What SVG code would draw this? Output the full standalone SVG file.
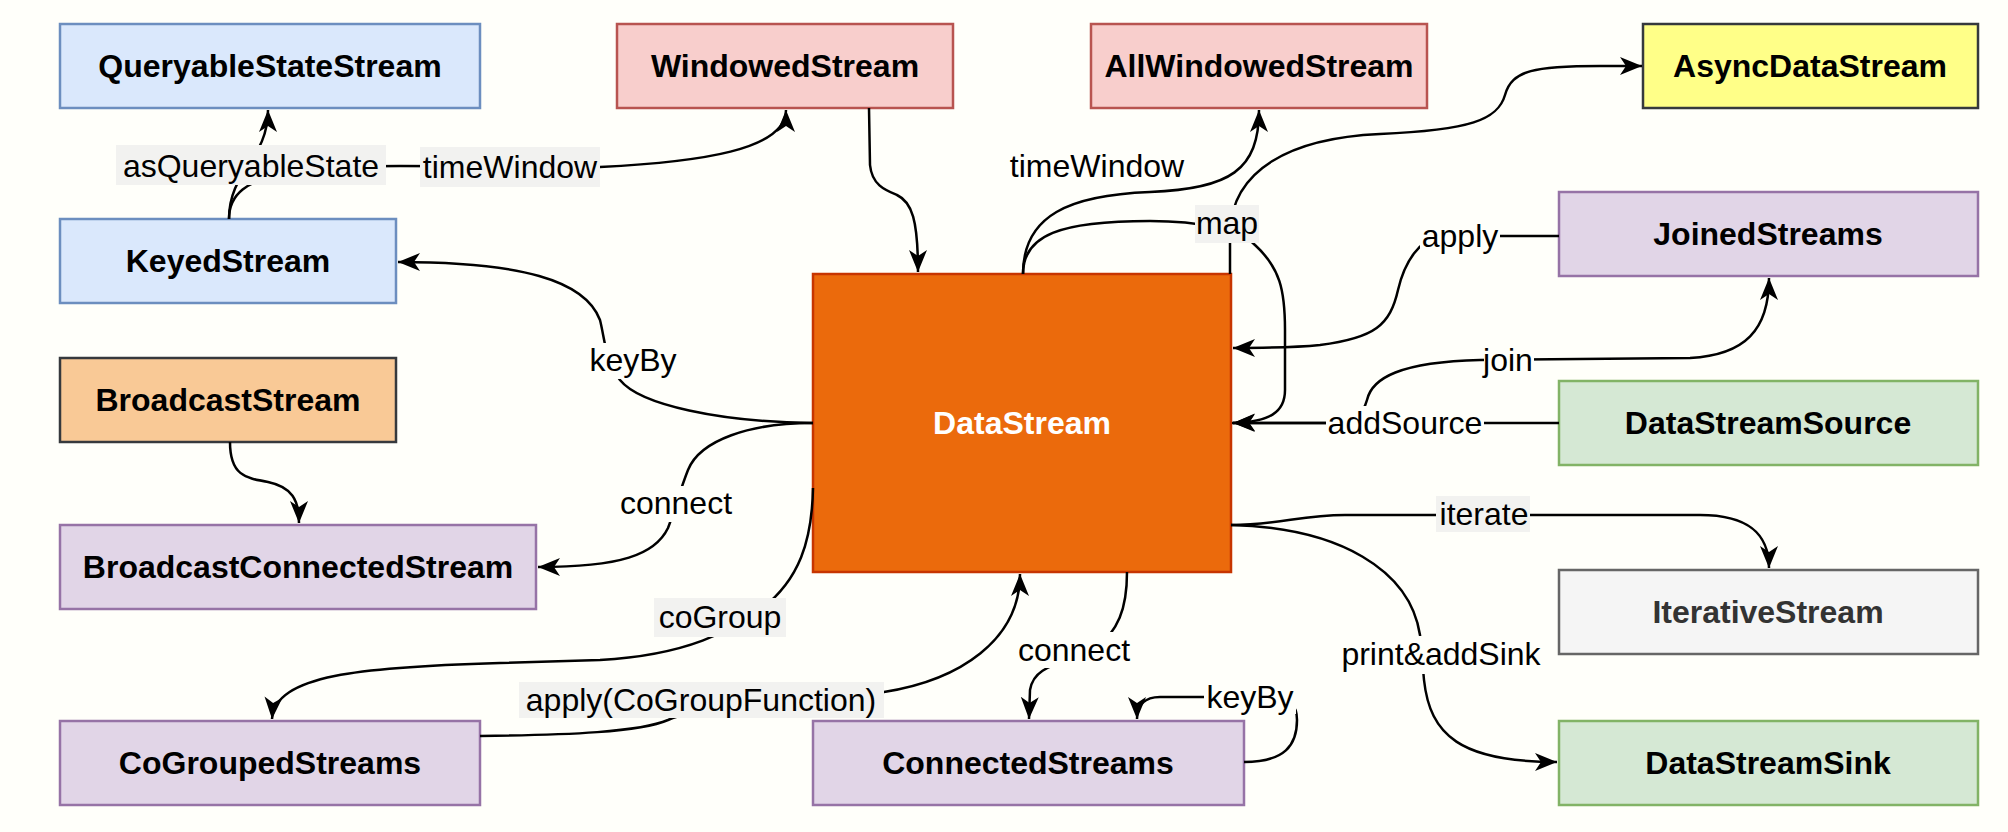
<svg xmlns="http://www.w3.org/2000/svg" width="2008" height="832" viewBox="0 0 2008 832">
<defs>
<marker id="arr" markerUnits="userSpaceOnUse" markerWidth="24" markerHeight="20" refX="22" refY="9" orient="auto">
<path d="M0,0 L22,9 L0,18 L6,9 Z" fill="#000"/>
</marker>
<style>
.n{stroke-width:2.5}
.nt{font-family:"Liberation Sans",Arial,Helvetica,sans-serif;font-weight:bold;font-size:32px;text-anchor:middle;fill:#000}
.e{fill:none;stroke:#000;stroke-width:2.5}
.a{marker-end:url(#arr)}
.lt{font-family:"Liberation Sans",Arial,Helvetica,sans-serif;font-size:32px;text-anchor:middle;fill:#000}
.lb{fill:#fffffa}
.lg{fill:#f2f2f0}
.blue{fill:#dae8fc;stroke:#6c8ebf}
.red{fill:#f8cecc;stroke:#b85450}
.purple{fill:#e1d5e7;stroke:#9673a6}
.green{fill:#d5e8d4;stroke:#82b366}
</style>
</defs>
<rect width="2008" height="832" fill="#fffffa"/>

<g id="QueryableStateStream"><rect class="n blue" x="60" y="24" width="420" height="84"/><text class="nt" x="270" y="77">QueryableStateStream</text></g>
<g id="KeyedStream"><rect class="n blue" x="60" y="219" width="336" height="84"/><text class="nt" x="228" y="272">KeyedStream</text></g>
<g id="BroadcastStream"><rect class="n" fill="#f9c996" stroke="#36393d" x="60" y="358" width="336" height="84"/><text class="nt" x="228" y="411">BroadcastStream</text></g>
<g id="BroadcastConnectedStream"><rect class="n purple" x="60" y="525" width="476" height="84"/><text class="nt" x="298" y="578">BroadcastConnectedStream</text></g>
<g id="CoGroupedStreams"><rect class="n purple" x="60" y="721" width="420" height="84"/><text class="nt" x="270" y="774">CoGroupedStreams</text></g>
<g id="WindowedStream"><rect class="n red" x="617" y="24" width="336" height="84"/><text class="nt" x="785" y="77">WindowedStream</text></g>
<g id="AllWindowedStream"><rect class="n red" x="1091" y="24" width="336" height="84"/><text class="nt" x="1259" y="77">AllWindowedStream</text></g>
<g id="AsyncDataStream"><rect class="n" fill="#ffff88" stroke="#36393d" x="1643" y="24" width="335" height="84"/><text class="nt" x="1810" y="77">AsyncDataStream</text></g>
<g id="JoinedStreams"><rect class="n purple" x="1559" y="192" width="419" height="84"/><text class="nt" x="1768" y="245">JoinedStreams</text></g>
<g id="DataStreamSource"><rect class="n green" x="1559" y="381" width="419" height="84"/><text class="nt" x="1768" y="434">DataStreamSource</text></g>
<g id="IterativeStream"><rect class="n" fill="#f5f5f5" stroke="#666666" x="1559" y="570" width="419" height="84"/><text class="nt" x="1768" y="623" style="fill:#333333">IterativeStream</text></g>
<g id="DataStreamSink"><rect class="n green" x="1559" y="721" width="419" height="84"/><text class="nt" x="1768" y="774">DataStreamSink</text></g>
<g id="DataStream"><rect class="n" fill="#eb6a0c" stroke="#c73500" x="813" y="274" width="418" height="298"/><text class="nt" x="1022" y="434" style="fill:#ffffff">DataStream</text></g>
<g id="ConnectedStreams"><rect class="n purple" x="813" y="721" width="431" height="84"/><text class="nt" x="1028" y="774">ConnectedStreams</text></g>

<g id="connectors">
<path class="e a" d="M229,219 C229,170 268,160 268,110"/>
<path class="e a" d="M229,219 C229,195 245,180 290,172 C320,167 350,166 400,166 L600,167 C700,162 786,150 786,110"/>
<path class="e a" d="M869,108 L870,165 C872,185 885,190 897,195 C912,202 918,220 918,272"/>
<path class="e a" d="M1023,274 C1023,215 1070,195 1150,192 C1230,189 1259,170 1259,110"/>
<path class="e a" d="M1023,274 C1023,235 1060,221 1150,221 C1200,221 1240,230 1255,245 C1280,268 1285,290 1285,330 L1285,390 C1285,412 1270,422 1233,423"/>
<path class="e a" d="M1230,274 L1230,232 C1232,170 1290,138 1380,134 C1470,130 1498,120 1505,95 C1512,70 1535,66 1600,66 L1642,66"/>
<path class="e a" d="M1559,236 L1440,236 C1420,240 1405,260 1398,290 C1390,325 1375,338 1320,345 C1290,348 1260,348 1233,348"/>
<path class="e a" d="M1559,423 L1233,423"/>
<path class="e a" d="M1232,423 L1330,423 C1355,422 1364,412 1367,400 C1372,378 1400,362 1480,360 L1690,358 C1745,355 1769,330 1769,278"/>
<path class="e a" d="M1231,525 C1280,525 1300,515 1345,515 L1700,515 C1750,515 1769,535 1769,568"/>
<path class="e a" d="M1231,525 C1340,528 1410,570 1420,635 L1424,680 C1430,735 1460,762 1557,762"/>
<path class="e a" d="M813,423 C720,422 640,405 620,380 C605,360 605,340 600,320 C585,280 520,262 398,262"/>
<path class="e a" d="M813,423 C750,423 700,440 688,470 C680,490 675,510 668,528 C655,555 620,567 538,567"/>
<path class="e a" d="M230,442 C230,475 245,478 268,482 C292,487 299,500 299,523"/>
<path class="e a" d="M813,488 C812,540 800,580 760,610 C730,630 690,655 600,660 L500,663 C360,667 275,675 272,719"/>
<path class="e a" d="M480,736 C570,735 640,732 668,720 C700,705 800,700 884,692 C960,680 1020,640 1020,574"/>
<path class="e a" d="M1127,572 C1127,610 1118,630 1095,650 C1060,665 1034,665 1030,690 L1029,719"/>
<path class="e a" d="M1244,762 C1285,762 1297,745 1297,720 C1297,705 1290,698 1270,697 L1160,697 C1145,697 1137,705 1137,719"/>

<g id="labels">
<rect class="lg" x="116" y="145" width="270" height="40"/><text class="lt" x="251" y="177">asQueryableState</text>
<rect class="lg" x="420" y="147" width="180" height="40"/><text class="lt" x="510" y="178">timeWindow</text>
<text class="lt" x="1097" y="177">timeWindow</text>
<rect class="lg" x="1195" y="205" width="64" height="38"/><text class="lt" x="1227" y="234">map</text>
<rect class="lb" x="1420" y="218" width="80" height="38"/><text class="lt" x="1460" y="247">apply</text>
<rect class="lb" x="1484" y="342" width="50" height="36"/><text class="lt" x="1508" y="371">join</text>
<rect class="lb" x="1326" y="406" width="158" height="34"/><text class="lt" x="1405" y="434">addSource</text>
<rect class="lg" x="1436" y="496" width="94" height="36"/><text class="lt" x="1484" y="525">iterate</text>
<rect class="lb" x="1338" y="636" width="206" height="38"/><text class="lt" x="1441" y="665">print&amp;addSink</text>
<rect class="lb" x="589" y="343" width="88" height="36"/><text class="lt" x="633" y="371">keyBy</text>
<rect class="lb" x="617" y="486" width="118" height="36"/><text class="lt" x="676" y="514">connect</text>
<rect class="lg" x="654" y="598" width="132" height="39"/><text class="lt" x="720" y="628">coGroup</text>
<rect class="lg" x="519" y="682" width="365" height="36"/><text class="lt" x="701" y="711">apply(CoGroupFunction)</text>
<rect class="lb" x="1016" y="632" width="117" height="36"/><text class="lt" x="1074" y="661">connect</text>
<rect class="lb" x="1204" y="680" width="92" height="34"/><text class="lt" x="1250" y="708">keyBy</text>
</g>
</g>
</svg>
